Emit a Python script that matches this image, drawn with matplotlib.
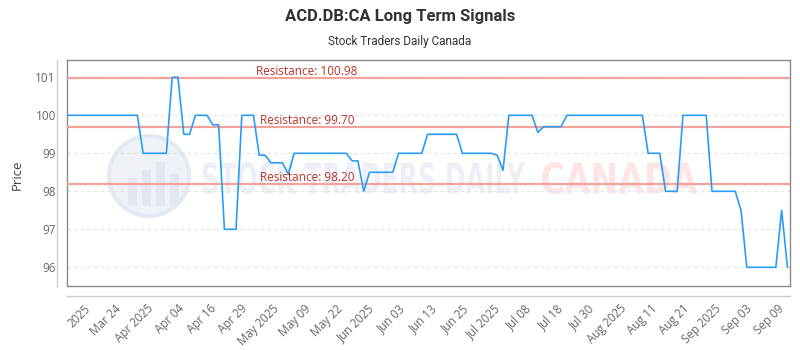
import numpy as np
import matplotlib
matplotlib.use('Agg')
import matplotlib.pyplot as plt
from matplotlib.textpath import TextPath
from matplotlib.font_manager import FontProperties
from matplotlib.patches import PathPatch, Circle, Rectangle
from matplotlib.transforms import Affine2D

# price series (one value per session)
prices = [
    100, 100, 100, 100, 100, 100, 100, 100, 100, 100, 100, 100, 100,
    99, 99, 99, 99, 99,
    101, 101,
    99.5, 99.5,
    100, 100, 100,
    99.75, 99.75,
    97, 97, 97,
    100, 100, 100,
    98.95, 98.95,
    98.75, 98.75, 98.75,
    98.45,
    99, 99, 99, 99, 99, 99, 99, 99, 99, 99,
    98.8, 98.8,
    98.0,
    98.5, 98.5, 98.5, 98.5, 98.5,
    99, 99, 99, 99, 99,
    99.5, 99.5, 99.5, 99.5, 99.5, 99.5,
    99, 99, 99, 99, 99, 99,
    98.95,
    98.55,
    100, 100, 100, 100, 100,
    99.55,
    99.7, 99.7, 99.7, 99.7,
    100, 100, 100, 100, 100, 100, 100, 100, 100, 100, 100, 100, 100, 100,
    99, 99, 99,
    98, 98, 98,
    100, 100, 100, 100, 100,
    98, 98, 98, 98, 98,
    97.5,
    96, 96, 96, 96, 96, 96,
    97.5,
    96,
]

resistance = [100.98, 99.70, 98.20]

tick_labels = ['2025', 'Mar 24', 'Apr 2025', 'Apr 04', 'Apr 16', 'Apr 29',
               'May 2025', 'May 09', 'May 22', 'Jun 2025', 'Jun 03', 'Jun 13',
               'Jun 25', 'Jul 2025', 'Jul 08', 'Jul 18', 'Jul 30', 'Aug 2025',
               'Aug 11', 'Aug 21', 'Sep 2025', 'Sep 03', 'Sep 09']
y_ticks = [96, 97, 98, 99, 100, 101]

W, H = 800, 350
fig = plt.figure(figsize=(8, 3.5), dpi=100)
ax = fig.add_axes([67 / W, 1 - 286 / H, 723 / W, 226 / H])
px = Affine2D().scale(1 / W, -1 / H).translate(0, 1) + fig.transFigure

# watermark
def wm_text(s, x0, y0, x1, y1, color):
    tp = TextPath((0, 0), s, size=100, prop=FontProperties(family='DejaVu Sans', weight='bold'))
    bb = tp.get_extents()
    tr = (Affine2D().translate(-bb.x0, -bb.y0)
          .scale((x1 - x0) / bb.width, -(y1 - y0) / bb.height)
          .translate(x0, y1))
    ax.add_patch(PathPatch(tr.transform_path(tp), transform=px, facecolor=color,
                           edgecolor='none', zorder=0.5, clip_on=False))

ax.add_patch(Circle((149, 176), 40, transform=px, facecolor='#eff3f8',
                    edgecolor='#e4eaf3', lw=3, zorder=0.5, clip_on=False))
for bx, bh in [(128, 28), (142, 36), (156, 44), (170, 32)]:
    ax.add_patch(Rectangle((bx, 206 - bh), 9, bh, transform=px, facecolor='#e3e8f0',
                           edgecolor='none', zorder=0.5, clip_on=False))
wm_text('STOCK TRADERS DAILY', 203, 162, 525, 194, '#ecf0f6')
wm_text('CANADA', 542, 162, 697, 194, '#fde5e5')

x = np.arange(len(prices))
ax.plot(x, prices, color='#2c9cf2', lw=1.2, zorder=4)

for r in resistance:
    ax.axhline(r, color='#f3a29c', lw=1.6, zorder=3)
    ax.text(0.332, r, 'Resistance: %.2f' % r, transform=ax.get_yaxis_transform(),
            ha='center', va='bottom', fontsize=8.5, color='#b8322a',
            family='Open Sans', zorder=5)

ax.set_xlim(-0.12, 124.44)
ax.set_ylim(95.508, 101.455)
ax.set_yticks(y_ticks)
ax.set_yticklabels([str(v) for v in y_ticks])
ax.yaxis.grid(True, color='#e3e3e3', lw=0.8, linestyle=(0, (3, 3)))
ax.set_axisbelow(True)

ticks = np.linspace(3.5, 123.0, len(tick_labels))
ax.set_xticks(ticks)
ax.set_xticklabels(tick_labels, rotation=45, ha='right', va='center',
                   rotation_mode='anchor', family='Open Sans', fontsize=8.3, color='#666666')
ax.tick_params(axis='x', length=0, pad=15)
ax.tick_params(axis='y', length=0, pad=8, labelsize=8.5, labelcolor='#666666')
for lab in ax.get_yticklabels():
    lab.set_family('Open Sans')

for s in ax.spines.values():
    s.set_color('#8a8a8a')
    s.set_linewidth(1)

# offset axis lines
ax.plot([0, 1], [-10 / 226, -10 / 226], transform=ax.transAxes, color='#cccccc',
        lw=1, clip_on=False)
ax.plot([-10 / 723, -10 / 723], [0, 1], transform=ax.transAxes, color='#cccccc',
        lw=1, clip_on=False)

fig.text(0.5, 1 - 16 / H, 'ACD.DB:CA Long Term Signals', ha='center', va='center',
         fontsize=12, fontweight='bold', color='#333333', family='Roboto')
fig.text(0.5, 1 - 42 / H, 'Stock Traders Daily Canada', ha='center', va='center',
         fontsize=8.5, color='#333333', family='Roboto')
fig.text(17 / W, 1 - 175 / H, 'Price', rotation=90, ha='center', va='center',
         fontsize=9.5, color='#444444', family='Open Sans')

fig.savefig('out.png', dpi=100)
